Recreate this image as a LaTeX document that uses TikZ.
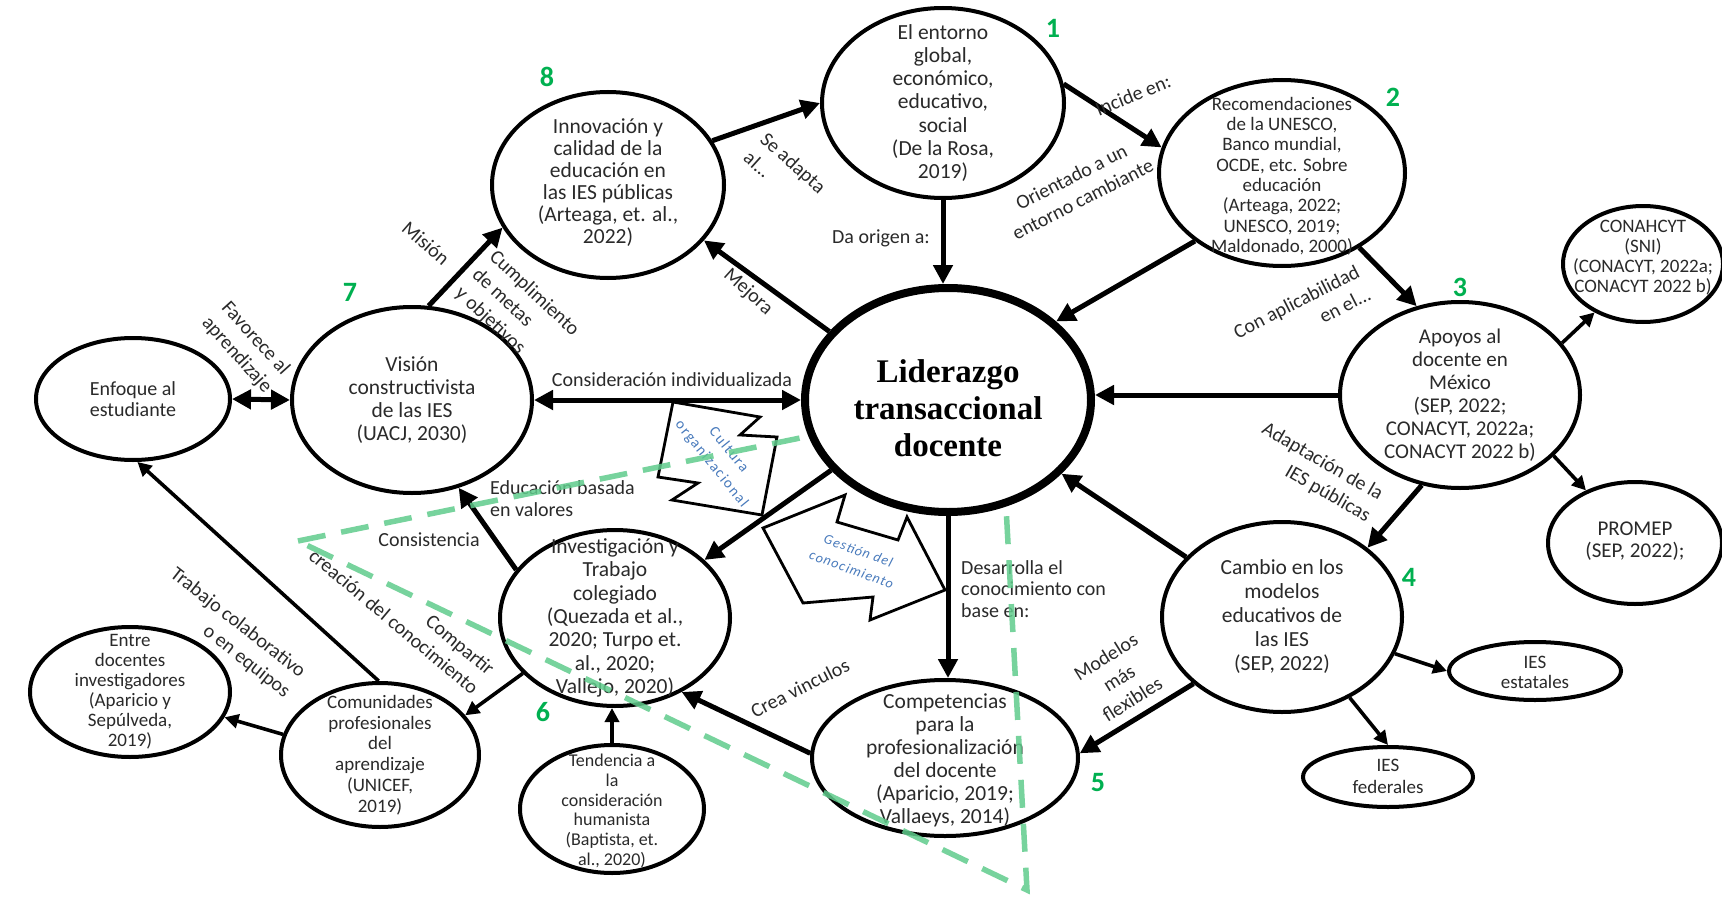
\documentclass[tikz,border=0pt]{standalone}
\usepackage{fontspec}
\setmainfont{Carlito}
\newfontfamily\titlefont{Liberation Serif}
\usetikzlibrary{arrows.meta,shapes.geometric}
\definecolor{ink}{RGB}{42,42,42}
\definecolor{numgreen}{RGB}{0,176,80}
\definecolor{dashgreen}{RGB}{96,204,140}
\definecolor{tagblue}{RGB}{72,122,188}
\pgfdeclarelayer{front}
\pgfsetlayers{main,front}

\tikzset{
  ell/.style={draw=black, line width=4pt, ellipse, fill=white, inner sep=0pt},
  tx/.style={text=ink, align=center, inner sep=0pt},
  lb/.style={text=ink, inner sep=0pt, align=center, font=\fontsize{20}{25}\selectfont},
  num/.style={text=numgreen, inner sep=0pt, font=\fontsize{28}{28}\selectfont\bfseries},
  tag/.style={text=tagblue, inner sep=0pt, align=center},
  arr/.style={line width=5pt, -{Triangle[length=19pt,width=19pt]}},
  darr/.style={line width=5pt, {Triangle[length=19pt,width=19pt]}-{Triangle[length=19pt,width=19pt]}},
  sarr/.style={line width=3.6pt, -{Triangle[length=14pt,width=14pt]}},
  blk/.style={draw=black, line width=2.8pt, fill=white, line join=miter},
  tri/.style={draw=dashgreen, line width=5.5pt, dash pattern=on 28pt off 16pt, opacity=.85}
}

\begin{document}
\begin{tikzpicture}[x=1pt,y=-1pt]
\useasboundingbox (0,0) rectangle (1722,899);
\fill[white] (0,0) rectangle (1722,899);

% central concept, kept on the front layer
\begin{pgfonlayer}{front}
\node[ell, line width=8pt, minimum width=286pt, minimum height=224pt] (L) at (948,400) {};
\node[inner sep=0pt, align=center, font={\titlefont\bfseries\fontsize{33}{37}\selectfont}] (Lt) at (948,408) {Liderazgo\\transaccional\\docente};
\end{pgfonlayer}

% surrounding concepts
\node[ell, minimum width=242pt, minimum height=190pt] (n1) at (943,103) {};
\node[tx, font=\fontsize{21.5}{23.3}\selectfont] at (n1) {El entorno\\global,\\económico,\\educativo,\\social\\(De la Rosa,\\2019)};

\node[ell, minimum width=246pt, minimum height=186pt] (n2) at (1282,173) {};
\node[tx, font=\fontsize{19}{20.3}\selectfont] at (1282,176) {Recomendaciones\\de la UNESCO,\\Banco mundial,\\OCDE, etc. Sobre\\educación\\(Arteaga, 2022;\\UNESCO, 2019;\\Maldonado, 2000)};

\node[ell, minimum width=240pt, minimum height=186pt] (n3) at (1460,395) {};
\node[tx, font=\fontsize{21}{23}\selectfont] at (n3) {Apoyos al\\docente en\\México\\(SEP, 2022;\\CONACYT, 2022a;\\CONACYT 2022 b)};

\node[ell, minimum width=160pt, minimum height=116pt] (conah) at (1643,264) {};
\node[tx, font=\fontsize{19}{20}\selectfont] at (1643,258) {CONAHCYT\\(SNI)\\(CONACYT, 2022a;\\CONACYT 2022 b)};

\node[ell, minimum width=174pt, minimum height=122pt] (promep) at (1635,543) {};
\node[tx, font=\fontsize{21}{22}\selectfont] at (1635,541) {PROMEP\\(SEP, 2022);};

\node[ell, minimum width=240pt, minimum height=190pt] (n4) at (1282,617) {};
\node[tx, font=\fontsize{21.5}{24}\selectfont] at (n4) {Cambio en los\\modelos\\educativos de\\las IES\\(SEP, 2022)};

\node[ell, minimum width=172pt, minimum height=58pt] (estat) at (1535,671) {};
\node[tx, font=\fontsize{19}{20}\selectfont] at (1535,672) {IES\\estatales};

\node[ell, minimum width=170pt, minimum height=60pt] (feder) at (1388,777) {};
\node[tx, font=\fontsize{19}{22}\selectfont] at (1388,776) {IES\\federales};

\node[ell, minimum width=266pt, minimum height=156pt] (n5) at (945,758) {};
\node[tx, font=\fontsize{21.5}{23}\selectfont] at (945,760) {Competencias\\para la\\profesionalización\\del docente\\(Aparicio, 2019;\\Vallaeys, 2014)};

\node[ell, minimum width=230pt, minimum height=176pt] (n6) at (615,618) {};
\node[tx, font=\fontsize{21.5}{23.3}\selectfont] at (n6) {Investigación y\\Trabajo\\colegiado\\(Quezada et al.,\\2020; Turpo et.\\al., 2020;\\Vallejo, 2020)};

\node[ell, minimum width=184pt, minimum height=128pt] (tend) at (612,809) {};
\node[tx, font=\fontsize{18}{19.7}\selectfont] at (612,811) {Tendencia a\\la\\consideración\\humanista\\(Baptista, et.\\al., 2020)};

\node[ell, minimum width=198pt, minimum height=144pt] (comu) at (380,755) {};
\node[tx, font=\fontsize{19}{20.7}\selectfont] at (comu) {Comunidades\\profesionales\\del\\aprendizaje\\(UNICEF,\\2019)};

\node[ell, minimum width=200pt, minimum height=130pt] (entre) at (130,692) {};
\node[tx, font=\fontsize{19}{20}\selectfont] at (entre) {Entre\\docentes\\investigadores\\(Aparicio y\\Sepúlveda,\\2019)};

\node[ell, minimum width=240pt, minimum height=186pt] (n7) at (412,400) {};
\node[tx, font=\fontsize{21.5}{22.8}\selectfont] at (n7) {Visión\\constructivista\\de las IES\\(UACJ, 2030)};

\node[ell, minimum width=194pt, minimum height=122pt] (enf) at (133,399) {};
\node[tx, font=\fontsize{20}{21.7}\selectfont] at (enf) {Enfoque al\\estudiante};

\node[ell, minimum width=232pt, minimum height=186pt] (n8) at (608,185) {};
\node[tx, font=\fontsize{21.5}{22}\selectfont] at (608,183) {Innovación y\\calidad de la\\educación en\\las IES públicas\\(Arteaga, et. al.,\\2022)};

% block arrows
\draw[blk] (673,402) -- (760,417) -- (740,435) -- (777,437) -- (762,515) -- (672,500) -- (698,483) -- (658,477) -- cycle;
\draw[blk] (763,528) -- (845,495) -- (837,522) -- (898,540) -- (907,517) -- (945,590) -- (870,620) -- (873,597) -- (803,603) -- cycle;
\node[tag, rotate=-51, font={\fontsize{15}{22}\selectfont\addfontfeatures{LetterSpace=10}}] (cul) at (720,457) {Cultura\\organizacional};
\node[tag, rotate=-20, font={\fontsize{14}{20}\selectfont\itshape\addfontfeatures{LetterSpace=8}}] (ges) at (855,560) {Gestión del\\conocimiento};

% connectors
\draw[arr] (n8.23) -- (n1.180);
\draw[arr] (n1.9) -- (n2.168);
\draw[arr] (n1.south) -- (n1.south |- L.north);
\draw[arr] (n2.218) -- (L.36);
\draw[arr] (n2.316) -- (n3.116);
\draw[sarr] (n3.27) -- (conah.225);
\draw[arr] (n3.west) -- (n3.west -| L.east);
\draw[sarr] (n3.327) -- (promep.133);
\draw[arr] (n3.247) -- (n4.39);
\draw[arr] (n4.148) -- (L.327);
\draw[arr] (n4.217) -- (n5.2);
\draw[sarr] (n4.342) -- (estat.west);
\draw[sarr] (n4.310) -- (feder.north);
\draw[arr] (L.south) -- (L.south |- n5.north);
\draw[arr] (n5.178) -- (n6.312);
\draw[arr] (L.211) -- (n6.33);
\draw[arr] (L.150) -- (n8.330);
\draw[arr] (n7.80) -- (n8.202);
\draw[darr] (n7.east) -- (L.west);
\draw[darr] (enf.east) -- (n7.west);
\draw[arr] (n6.154) -- (n7.298);
\draw[sarr] (n6.211) -- (comu.25);
\draw[sarr] (comu.91) -- (enf.274);
\draw[sarr] (comu.168) -- (entre.345);
\draw[sarr] (tend.north) -- (tend.north |- n6.south);

% connector labels
\node[lb, rotate=-48] (lFav) at (246,347) {Favorece al\\aprendizaje};
\node[lb, rotate=-41] (lMis) at (426,243) {Misión};
\node[lb, rotate=-43, align=left] (lCum) at (517,312) {Cumplimiento\\de metas\\y objetivos};
\node[lb, rotate=-42, align=left] (lSe) at (785,172) {Se adapta\\al...};
\node[lb, rotate=22] (lInc) at (1133,95) {Incide en:};
\node[lb, rotate=27] (lOri) at (1077,188) {Orientado a un\\entorno cambiante};
\node[lb] (lDa) at (881,238) {Da origen a:};
\node[lb, rotate=-42] (lMej) at (748,292) {Mejora};
\node[lb, rotate=27, align=right] (lCon) at (1302,313) {Con aplicabilidad\\en el...};
\node[lb, rotate=-30, align=right] (lAda) at (1316,473) {Adaptación de la\\IES públicas};
\node[lb, rotate=32] (lMod) at (1119,678) {Modelos\\más\\flexibles};
\node[lb, rotate=27] (lCrea) at (800,688) {Crea vinculos};
\node[lb, anchor=north west, align=left, font=\fontsize{20}{21.5}\selectfont] (lDes) at (961,560) {Desarrolla el\\conocimiento con\\base en:};
\node[lb] (lConsid) at (672,380) {Consideración individualizada};
\node[lb, anchor=north west, align=left, font=\fontsize{20}{22}\selectfont] (lEdu) at (490,480) {Educación basada\\en valores};
\node[lb] (lConsis) at (429,540) {Consistencia};
\node[lb, rotate=-40, align=right] (lComp) at (402,612) {Compartir\\creación del conocimiento};
\node[lb, rotate=-38, align=right] (lTrab) at (230,633) {Trabajo colaborativo\\o en equipos};

% step numbers
\node[num] (k1) at (1053,28) {1};
\node[num] (k2) at (1393,97) {2};
\node[num] (k3) at (1460,287) {3};
\node[num] (k4) at (1409,577) {4};
\node[num] (k5) at (1098,783) {5};
\node[num] (k6) at (543,712) {6};
\node[num] (k7) at (350,292) {7};
\node[num] (k8) at (547,77) {8};

% dashed triangle
\coordinate (ta) at (298,541);
\coordinate (tb) at (1000,397);
\coordinate (tc) at (1027,890);
\draw[tri] (ta) -- (tb) -- (tc) -- cycle;
\end{tikzpicture}
\end{document}
